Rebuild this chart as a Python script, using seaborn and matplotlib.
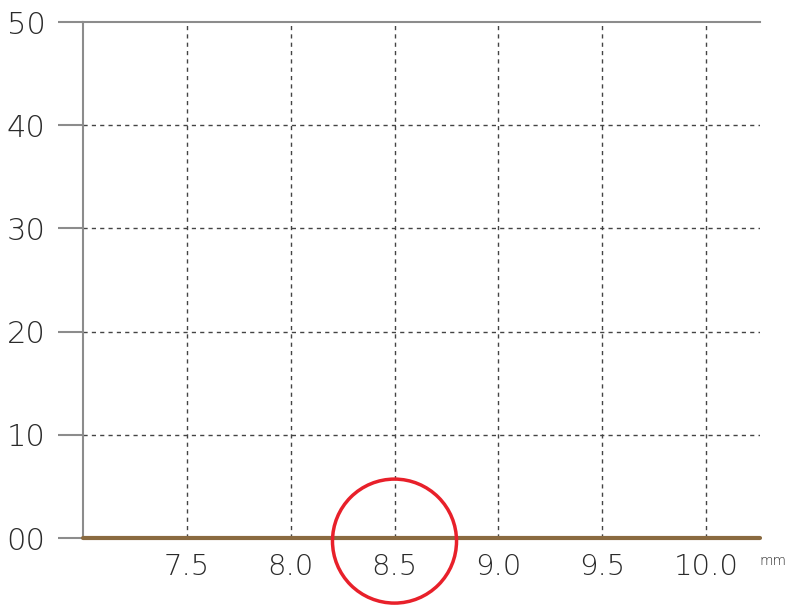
import matplotlib
matplotlib.use("Agg")
import matplotlib.pyplot as plt
import seaborn as sns
import pandas as pd
from matplotlib.patches import Ellipse

# ---- data ----
x_mm = [7.0, 7.5, 8.0, 8.5, 9.0, 9.5, 10.0, 10.26]
y_val = [0, 0, 0, 0, 0, 0, 0, 0]
x_ticks = [7.5, 8.0, 8.5, 9.0, 9.5, 10.0]
x_tick_labels = ["7.5", "8.0", "8.5", "9.0", "9.5", "10.0"]
y_ticks = [0, 10, 20, 30, 40, 50]
y_tick_labels = ["00", "10", "20", "30", "40", "50"]
highlight_x = 8.5
unit_label = "mm"

sns.set_theme(style="white")
plt.rcParams['font.family'] = ['DejaVu Sans']
plt.rcParams['font.weight'] = 'light'

fig = plt.figure(figsize=(8, 6.15), dpi=100)
ax = fig.add_axes([83/800, 77/615, (760-83)/800, (538-22)/615])

df = pd.DataFrame({"x": x_mm, "y": y_val})
sns.lineplot(data=df, x="x", y="y", ax=ax, color="#8a6a40", linewidth=3,
             zorder=5, clip_on=False)

ax.set_xlim(7.0, 10.26)
ax.set_ylim(0, 50)
ax.set_xticks(x_ticks)
ax.set_xticklabels(x_tick_labels)
ax.set_yticks(y_ticks)
ax.set_yticklabels(y_tick_labels)
ax.set_xlabel("")
ax.set_ylabel("")

# gridlines
for xv in x_ticks:
    ax.axvline(xv, color="#444444", linestyle=(0, (3, 3)), linewidth=1, zorder=1)
for yv in y_ticks[1:-1]:
    ax.axhline(yv, color="#444444", linestyle=(0, (3, 3)), linewidth=1, zorder=1)

for side in ["right", "bottom"]:
    ax.spines[side].set_visible(False)
for side in ["left", "top"]:
    ax.spines[side].set_visible(True)
    ax.spines[side].set_color("#8c8c8c")
    ax.spines[side].set_linewidth(1.5)

ax.tick_params(axis="y", length=18, width=1.5, color="#8c8c8c", pad=9,
               labelsize=22, labelcolor="#2a2a2a", left=True)
ax.tick_params(axis="x", length=0, pad=11, labelsize=21, labelcolor="#2a2a2a")

# unit label
ax.text(10.32, -2.2, unit_label, fontsize=10, color="#2a2a2a",
        ha="center", va="center", clip_on=False)

# red highlight circle
ell = Ellipse((highlight_x, -0.3), width=2*62/207.6, height=2*62/10.32,
              fill=False, edgecolor="#e8202a", linewidth=2.5, clip_on=False,
              zorder=6)
ax.add_patch(ell)

fig.savefig("out.png", dpi=100)
